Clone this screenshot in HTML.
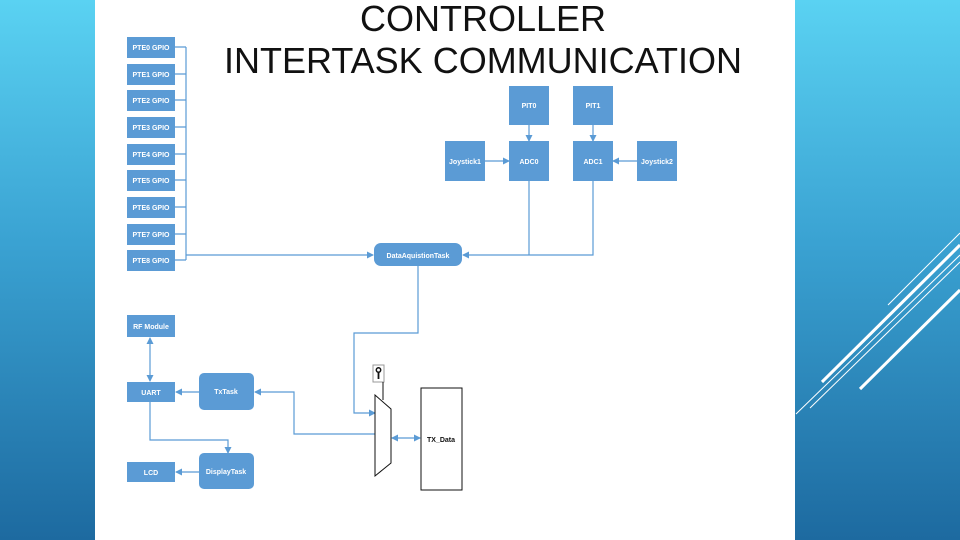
<!DOCTYPE html>
<html><head><style>
body{margin:0;width:960px;height:540px;overflow:hidden;background:linear-gradient(180deg,#5ad2f2 0%,#3aa2d2 45%,#1d6aa0 100%);font-family:"Liberation Sans",sans-serif;position:relative}
#w{position:absolute;left:95px;top:0;width:700px;height:540px;background:#fff}
.t{position:absolute;left:95px;width:776px;text-align:center;color:#111;font-size:36px;line-height:36px;white-space:nowrap}
</style></head><body>
<div id="w"></div>
<div class="t" style="top:1px">CONTROLLER</div>
<div class="t" style="top:43px">INTERTASK COMMUNICATION</div>
<svg width="960" height="540" style="position:absolute;left:0;top:0">
<defs><marker id="a" markerWidth="7" markerHeight="7" refX="6" refY="3.5" orient="auto-start-reverse" markerUnits="userSpaceOnUse"><path d="M0,0L7,3.5L0,7z" fill="#5b9bd5"/></marker></defs>
<g stroke="#fff" fill="none">
<line x1="822" y1="382" x2="960" y2="245" stroke-width="3"/>
<line x1="860" y1="389" x2="960" y2="290" stroke-width="3"/>
<line x1="888" y1="305" x2="960" y2="233" stroke-width="1"/>
<line x1="796" y1="414" x2="960" y2="255" stroke-width="1"/>
<line x1="810" y1="408" x2="960" y2="262" stroke-width="1"/>
</g>
<g fill="#5b9bd5">
<rect x="127" y="37" width="48" height="21"/><rect x="127" y="64" width="48" height="21"/><rect x="127" y="90" width="48" height="21"/><rect x="127" y="117" width="48" height="21"/><rect x="127" y="144" width="48" height="21"/><rect x="127" y="170" width="48" height="21"/><rect x="127" y="197" width="48" height="21"/><rect x="127" y="224" width="48" height="21"/><rect x="127" y="250" width="48" height="21"/>
<rect x="509" y="86" width="40" height="39"/><rect x="573" y="86" width="40" height="39"/>
<rect x="509" y="141" width="40" height="40"/><rect x="573" y="141" width="40" height="40"/>
<rect x="445" y="141" width="40" height="40"/><rect x="637" y="141" width="40" height="40"/>
<rect x="374" y="243" width="88" height="23" rx="7"/>
<rect x="127" y="315" width="48" height="22"/><rect x="127" y="382" width="48" height="20"/><rect x="127" y="462" width="48" height="20"/>
<rect x="199" y="373" width="55" height="37" rx="5"/><rect x="199" y="453" width="55" height="36" rx="5"/>
</g>
<g stroke="#5b9bd5" stroke-width="1.2" fill="none">
<path d="M175,47H186M175,74H186M175,100H186M175,127H186M175,154H186M175,180H186M175,207H186M175,234H186M175,260H186M186,47V260"/>
<path d="M186,255H373" marker-end="url(#a)"/>
<path d="M529,125V141" marker-end="url(#a)"/><path d="M593,125V141" marker-end="url(#a)"/>
<path d="M485,161H509" marker-end="url(#a)"/><path d="M637,161H613" marker-end="url(#a)"/>
<path d="M529,181V255M593,181V255H463" marker-end="url(#a)"/>
<path d="M418,266V333H354V413H375" marker-end="url(#a)"/>
<path d="M150,338V381" marker-end="url(#a)" marker-start="url(#a)"/>
<path d="M199,392H176" marker-end="url(#a)"/>
<path d="M150,402V440H228V453" marker-end="url(#a)"/>
<path d="M199,472H176" marker-end="url(#a)"/>
<path d="M375,434H294V392H255" marker-end="url(#a)"/>
<path d="M392,438H420" marker-end="url(#a)" marker-start="url(#a)"/>
</g>
<g stroke="#111" fill="#fff" stroke-width="1">
<path d="M375,395L391,409V463L375,476Z"/>
<rect x="421" y="388" width="41" height="102"/>
<rect x="373" y="365" width="11" height="17" stroke="#999"/>
<line x1="383" y1="382" x2="383" y2="400"/>
</g>
<circle cx="378.5" cy="370" r="2.2" fill="none" stroke="#111" stroke-width="1.5"/>
<line x1="378.5" y1="372" x2="378.5" y2="379" stroke="#111" stroke-width="1.8"/>
<g fill="#fff" font-size="7" font-weight="bold" text-anchor="middle">
<text x="151" y="50">PTE0 GPIO</text><text x="151" y="77">PTE1 GPIO</text><text x="151" y="103">PTE2 GPIO</text><text x="151" y="130">PTE3 GPIO</text><text x="151" y="157">PTE4 GPIO</text><text x="151" y="183">PTE5 GPIO</text><text x="151" y="210">PTE6 GPIO</text><text x="151" y="237">PTE7 GPIO</text><text x="151" y="263">PTE8 GPIO</text>
<text x="529" y="108">PIT0</text><text x="593" y="108">PIT1</text>
<text x="529" y="164">ADC0</text><text x="593" y="164">ADC1</text>
<text x="465" y="164">Joystick1</text><text x="657" y="164">Joystick2</text>
<text x="418" y="258">DataAquistionTask</text>
<text x="151" y="329">RF Module</text><text x="151" y="395">UART</text><text x="151" y="475">LCD</text>
<text x="226" y="394">TxTask</text><text x="226" y="474">DisplayTask</text>
<text x="441" y="442" fill="#111">TX_Data</text>
</g>
</svg>
</body></html>
